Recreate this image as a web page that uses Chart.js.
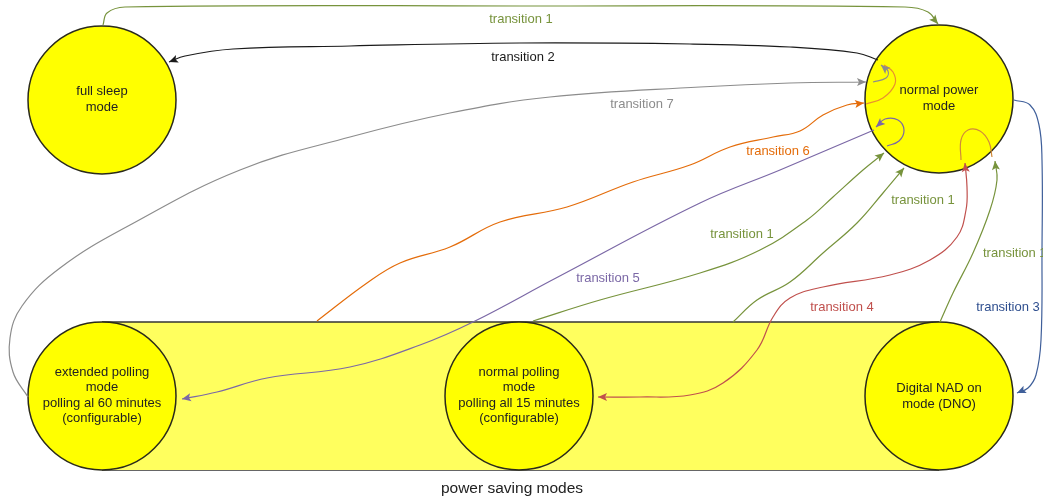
<!DOCTYPE html>
<html>
<head>
<meta charset="utf-8">
<script src="https://cdn.jsdelivr.net/npm/chart.js@4.4.1/dist/chart.umd.min.js"></script>
<style>
html,body{margin:0;padding:0;background:#fff;}
#wrap{width:1043px;height:500px;position:relative;}
</style>
</head>
<body>
<div id="wrap"><canvas id="c"></canvas></div>
<script>
// ---- data ----
const nodeNames = [
  ["full sleep","mode"],
  ["normal power","mode"],
  ["extended polling","mode","polling al 60 minutes","(configurable)"],
  ["normal polling","mode","polling all 15 minutes","(configurable)"],
  ["Digital NAD on","mode (DNO)"]
];
const nodeX = [102, 939, 102, 519, 939];
const nodeY = [100, 99, 396, 396, 396];

const groupLabel = "power saving modes";
const groupTop = [[102,322],[939,322]];
const groupBottom = [[102,470],[939,470]];

const edgeT1Top   = [[103,25],[107,13],[125,7],[520,6],[905,7],[928,12],[938,24]];
const edgeT2      = [[878,60],[857,53],[790,47],[690,44],[520,43],[350,46],[233,49],[185,56],[169,62]];
const edgeT7      = [[28,397],[13,372],[10,338],[22,306],[60,268],[130,225],[240,170],[350,137],[450,113],[550,97],[700,87],[790,83],[866,82]];
const loopGray    = [[873,82],[886,78],[888,71],[881,65]];
const edgeT6      = [[317,321],[367,283],[400,263],[450,247],[500,222],[567,207],[633,182],[690,165],[730,147],[773,137],[800,131],[823,115],[847,105],[864,103]];
const loopOrange  = [[866,104],[883,98],[895,84],[893,72],[884,65]];
const edgeT5      = [[874,130],[780,170],[700,203],[556,278],[473,322],[420,345],[350,367],[267,378],[217,392],[182,399]];
const loopPurple  = [[887,146],[899,141],[904,130],[898,120],[885,119],[876,127]];
const edgeT1Mid   = [[533,321],[600,300],[700,273],[760,250],[807,220],[833,197],[863,170],[884,153]];
const edgeT1Right = [[733,322],[757,300],[790,282],[823,253],[857,223],[883,193],[904,168]];
const edgeT4      = [[965,163],[967,187],[966,210],[957,237],[930,260],[890,275],[823,287],[790,298],[773,317],[757,350],[723,383],[690,395],[640,397],[598,397]];
const loopRed     = [[961,160],[961,140],[968,130],[980,131],[989,142],[992,157]];
const edgeT1DNO   = [[940,322],[953,293],[973,253],[990,210],[997,180],[995,161]];
const edgeT3      = [[1014,100],[1030,105],[1039,125],[1042,160],[1042,250],[1041,340],[1036,375],[1028,388],[1017,393]];

const edgeLabels = ["transition 1","transition 2","transition 7","transition 6","transition 5","transition 1","transition 1","transition 4","transition 3","transition 1"];
const edgeLabelX = [521, 523, 642, 778, 608, 742, 923, 842, 1008, 983];
const edgeLabelY = [19, 57, 104, 151, 278, 234, 200, 307, 307, 253];

// ---- styles ----
const GREEN='#77933c', GRAY='#8c8c8c', ORANGE='#e46c0a', PURPLE='#7b68a6', RED='#c0504d', BLUE='#3f5f9a', BLACK='#1a1a1a';
const labelColors=[GREEN, BLACK, GRAY, ORANGE, PURPLE, GREEN, GREEN, RED, '#2f4f8f', GREEN];
const labelAlign=['center','center','center','center','center','center','center','center','center','left'];
const FONT='"Liberation Sans", Arial, sans-serif';

const toPts = a => a.map(p => ({x:p[0], y:p[1]}));

function edge(pts, color, opts){
  return Object.assign({
    type:'scatter', data: toPts(pts), showLine:true, borderColor:color, backgroundColor:color,
    borderWidth:1.2, pointRadius:0, pointHoverRadius:0, tension:0.4, fill:false, order:1,
    clip:false, arrow:true, arrowStart:false
  }, opts||{});
}

const datasets = [
  {type:'line', data: toPts(groupTop), borderColor:'#333', borderWidth:1.4, backgroundColor:'#ffff5e',
   fill:{value:470}, pointRadius:0, tension:0, order:3, clip:false},
  {type:'line', data: toPts(groupBottom), borderColor:'#333', borderWidth:1.4, pointRadius:0, tension:0, fill:false, order:3, clip:false},
  {type:'scatter', data: nodeX.map((x,i)=>({x:x, y:nodeY[i]})), pointRadius:74, pointHoverRadius:74,
   backgroundColor:'#ffff00', borderColor:'#2a2a1a', borderWidth:1.5, hoverBorderWidth:1.5, order:2, clip:false},
  edge(edgeT1Top, GREEN),
  edge(edgeT2, BLACK),
  edge(edgeT7, GRAY),
  edge(loopGray, GRAY),
  edge(edgeT6, ORANGE),
  edge(loopOrange, '#e8912e', {arrow:false}),
  edge(edgeT5, PURPLE),
  edge(loopPurple, PURPLE),
  edge(edgeT1Mid, GREEN),
  edge(edgeT1Right, GREEN),
  edge(edgeT4, RED, {arrowStart:true}),
  edge(loopRed, '#d08a3a', {arrow:false}),
  edge(edgeT1DNO, GREEN),
  edge(edgeT3, BLUE)
];

function drawHead(ctx, tipX, tipY, fromX, fromY, color){
  const ang = Math.atan2(tipY-fromY, tipX-fromX);
  const L=9, Wd=4;
  ctx.save();
  ctx.translate(tipX, tipY);
  ctx.rotate(ang);
  ctx.beginPath();
  ctx.moveTo(0,0);
  ctx.lineTo(-L,-Wd);
  ctx.lineTo(-L+2,0);
  ctx.lineTo(-L,Wd);
  ctx.closePath();
  ctx.fillStyle=color;
  ctx.fill();
  ctx.restore();
}

const arrowPlugin = {
  id:'arrows',
  afterDatasetsDraw(chart){
    const ctx = chart.ctx;
    chart.data.datasets.forEach((ds,i)=>{
      if(!ds.arrow && !ds.arrowStart) return;
      const pts = chart.getDatasetMeta(i).data;
      const n = pts.length;
      if(n<2) return;
      if(ds.arrow){
        const last=pts[n-1], prev=pts[n-2];
        const ok = last.cp1x!==undefined && Math.hypot(last.cp1x-last.x,last.cp1y-last.y)>0.5;
        drawHead(ctx, last.x, last.y, ok?last.cp1x:prev.x, ok?last.cp1y:prev.y, ds.borderColor);
      }
      if(ds.arrowStart){
        const first=pts[0], nxt=pts[1];
        const ok = first.cp2x!==undefined && Math.hypot(first.cp2x-first.x,first.cp2y-first.y)>0.5;
        drawHead(ctx, first.x, first.y, ok?first.cp2x:nxt.x, ok?first.cp2y:nxt.y, ds.borderColor);
      }
    });
  }
};

const textPlugin = {
  id:'texts',
  afterDraw(chart){
    const ctx = chart.ctx, xs = chart.scales.x, ys = chart.scales.y;
    ctx.save();
    ctx.textBaseline='middle';
    ctx.font = '13px '+FONT;
    ctx.fillStyle = '#222';
    ctx.textAlign='center';
    nodeNames.forEach((lines,i)=>{
      const cx = xs.getPixelForValue(nodeX[i]);
      const cy = ys.getPixelForValue(nodeY[i]);
      lines.forEach((t,k)=>{
        let y;
        if(lines.length===2) y = (i===4 ? cy-8 : cy-9) + k*16;
        else y = cy-24 + k*15.6;
        ctx.fillText(t, cx, y);
      });
    });
    edgeLabels.forEach((t,i)=>{
      ctx.fillStyle = labelColors[i];
      ctx.textAlign = labelAlign[i];
      ctx.fillText(t, xs.getPixelForValue(edgeLabelX[i]), ys.getPixelForValue(edgeLabelY[i]));
    });
    ctx.fillStyle='#222';
    ctx.textAlign='center';
    ctx.font='15.5px '+FONT;
    ctx.fillText(groupLabel, xs.getPixelForValue(512), ys.getPixelForValue(489));
    ctx.restore();
  }
};

new Chart(document.getElementById('c'), {
  type:'scatter',
  data:{datasets:datasets},
  options:{
    responsive:true, maintainAspectRatio:false, animation:false, events:[],
    layout:{padding:0, autoPadding:false},
    plugins:{legend:{display:false}, tooltip:{enabled:false}, title:{display:false}},
    scales:{
      x:{type:'linear', min:0, max:1043, display:false},
      y:{type:'linear', min:0, max:500, reverse:true, display:false}
    },
    elements:{line:{capBezierPoints:false}}
  },
  plugins:[arrowPlugin, textPlugin]
});
</script>
</body>
</html>
